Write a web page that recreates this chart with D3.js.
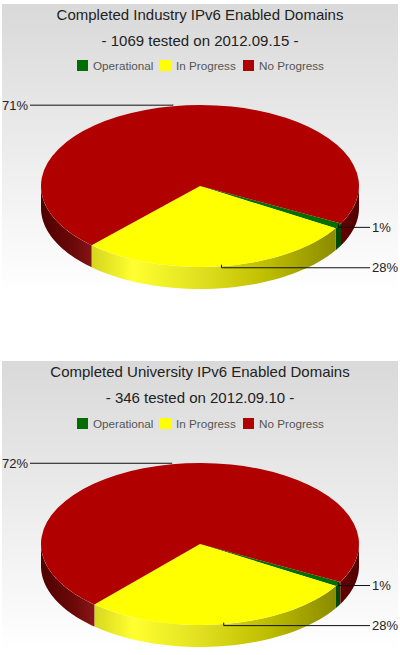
<!DOCTYPE html>
<html>
<head>
<meta charset="utf-8">
<script src="https://cdn.jsdelivr.net/npm/d3@7"></script>
<style>
  html, body { margin: 0; padding: 0; background: #fff; }
  svg { display: block; font-family: "Liberation Sans", Arial, sans-serif; }
</style>
</head>
<body>
<div id="chart"></div>
<script>
// categories and values (percent)
const categories = ["Operational", "In Progress", "No Progress"];
const colors = ["#006f00", "#ffff00", "#b00000"];
const titles = ["Completed Industry IPv6 Enabled Domains", "Completed University IPv6 Enabled Domains"];
const subtitles = ["- 1069 tested on 2012.09.15 -", "- 346 tested on 2012.09.10 -"];
const industryValues = [1.1, 28.2, 70.7];
const universityValues = [0.9, 28.0, 71.5];
const startDegrees = [117.5, 118];

const width = 400, height = 655;
const rx = 159, ry = 81, depth = 22;

const svg = d3.select("#chart").append("svg")
    .attr("width", width)
    .attr("height", height)
    .attr("viewBox", `0 0 ${width} ${height}`);

const defs = svg.append("defs");

const bg = defs.append("linearGradient").attr("id", "bg")
    .attr("x1", 0).attr("y1", 0).attr("x2", 0).attr("y2", 1);
bg.append("stop").attr("offset", "0%").attr("stop-color", "#d9d9d9");
bg.append("stop").attr("offset", "100%").attr("stop-color", "#ffffff");

// side wall shading, one per slice colour
function sideGradient(id, stops) {
    const g = defs.append("linearGradient").attr("id", id)
        .attr("gradientUnits", "userSpaceOnUse")
        .attr("x1", -rx).attr("y1", 0).attr("x2", rx).attr("y2", 0);
    stops.forEach(s => g.append("stop").attr("offset", s[0]).attr("stop-color", s[1]));
}
sideGradient("side0", [[0, "#004a00"], [1, "#004a00"]]);
sideGradient("side1", [[0, "#c8c820"], [0.17, "#d8d820"], [0.29, "#ffff30"], [0.5, "#e0e020"], [0.7, "#c0c000"], [0.93, "#8a8a00"], [1, "#808000"]]);
sideGradient("side2", [[0, "#500000"], [0.1, "#6a0808"], [0.17, "#8a1818"], [0.8, "#700000"], [0.93, "#6a0000"], [1, "#500000"]]);

const pie = d3.pie().sort(null).value(d => d);
const arc = d3.arc().innerRadius(0).outerRadius(rx);

const ellipseX = a => rx * Math.sin(a);
const ellipseY = a => ry * -Math.cos(a);

function drawChart(index, values, top, pieY, legendY) {
    const g = svg.append("g");

    g.append("rect")
        .attr("x", 2).attr("y", top)
        .attr("width", 396).attr("height", 290)
        .attr("fill", "url(#bg)");

    g.append("text")
        .attr("x", 200).attr("y", top + 16)
        .attr("text-anchor", "middle")
        .attr("font-size", 15).attr("fill", "#222")
        .text(titles[index]);
    g.append("text")
        .attr("x", 200).attr("y", top + 41.5)
        .attr("text-anchor", "middle")
        .attr("font-size", 15).attr("fill", "#222")
        .text(subtitles[index]);

    // legend
    const legendX = d3.scaleOrdinal().domain(categories).range([77, 160, 243]);
    const item = g.selectAll(".legend").data(categories).enter().append("g")
        .attr("transform", d => `translate(${legendX(d)},${legendY})`);
    item.append("rect")
        .attr("width", 11).attr("height", 11)
        .attr("fill", (d, i) => colors[i]);
    item.append("text")
        .attr("x", 16).attr("y", 9.5)
        .attr("font-size", 11.7).attr("fill", "#555")
        .text(d => d);

    const start = startDegrees[index] * Math.PI / 180;
    const slices = pie.startAngle(start).endAngle(start + 2 * Math.PI)(values);

    const pieG = g.append("g").attr("transform", `translate(200,${pieY})`);

    // side walls: only the part of each slice facing the viewer (90..270 deg)
    const sideLine = d3.line();
    const walls = [];
    slices.forEach((s, i) => {
        [0, 2 * Math.PI].forEach(shift => {
            const a0 = Math.max(s.startAngle, Math.PI / 2 + shift);
            const a1 = Math.min(s.endAngle, 3 * Math.PI / 2 + shift);
            if (a1 > a0) walls.push({ i, a0, a1 });
        });
    });
    pieG.selectAll(".wall").data(walls).enter().append("path")
        .attr("fill", d => `url(#side${d.i})`)
        .attr("d", d => {
            const angles = d3.range(0, 41).map(k => d.a0 + (d.a1 - d.a0) * k / 40);
            const upper = angles.map(a => [ellipseX(a), ellipseY(a)]);
            const lower = angles.slice().reverse().map(a => [ellipseX(a), ellipseY(a) + depth]);
            return sideLine(upper.concat(lower)) + "Z";
        });

    // top face
    pieG.append("g").attr("transform", `scale(1,${ry / rx})`)
        .selectAll("path").data(slices).enter().append("path")
        .attr("d", arc)
        .attr("fill", (d, i) => colors[i]);

    // leader lines and percent labels
    const labelX = { right: 170, left: -170 };
    slices.forEach(s => {
        const mid = (s.startAngle + s.endAngle) / 2;
        const ax = ellipseX(mid), ay = ellipseY(mid);
        const onRight = Math.sin(mid) > 0;
        const endX = onRight ? labelX.right : labelX.left;
        const elbowY = ay + (onRight ? 1.5 : -1);
        pieG.append("path")
            .attr("fill", "none").attr("stroke", "#111").attr("stroke-width", 1)
            .attr("d", d3.line()([[ax, ay - 1.5], [ax, elbowY], [endX, elbowY]]));
        pieG.append("text")
            .attr("x", endX + (onRight ? 2 : -2)).attr("y", elbowY + 4.5)
            .attr("text-anchor", onRight ? "start" : "end")
            .attr("font-size", 13).attr("fill", "#222")
            .text(Math.round(s.data) + "%");
    });
}

drawChart(0, industryValues, 4, 186, 60);
drawChart(1, universityValues, 361, 544, 418);
</script>
</body>
</html>
